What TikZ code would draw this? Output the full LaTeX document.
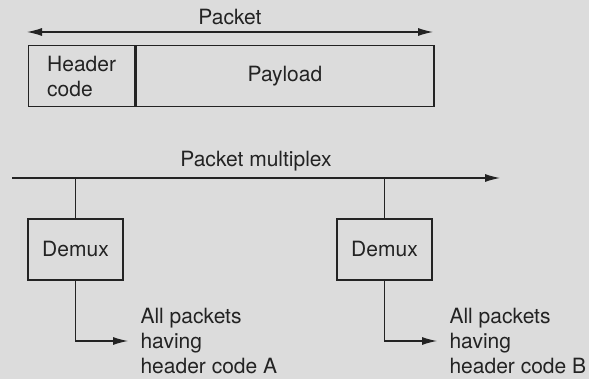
\documentclass[tikz,border=0pt]{standalone}
\usepackage{fontspec}
\setmainfont{TeX Gyre Heros}
\usetikzlibrary{positioning,arrows.meta}
\definecolor{bg}{RGB}{220,220,220}
\definecolor{ink}{RGB}{35,35,35}

\tikzset{
  cell/.style={draw, line width=0.65pt, minimum height=30.5pt, inner sep=0pt, align=left},
  demuxbox/.style={draw, line width=0.65pt, minimum width=47.5pt, minimum height=30.5pt},
  tip/.style={-{Latex[length=7.5pt,width=4pt]}},
  tips/.style={{Latex[length=7.5pt,width=4pt]}-{Latex[length=7.5pt,width=4pt]}},
  outtext/.style={anchor=west, inner xsep=6pt, inner ysep=0pt, align=left},
}

\begin{document}
\begin{tikzpicture}[x=0.5pt, y=-0.5pt, line width=0.55pt, color=ink,
    font=\fontsize{10.5}{12.6}\selectfont]
            \fill[bg] (0,0) rectangle (589,379);
            \useasboundingbox (0,0) rectangle (589,379);
            % packet layout
            \node[cell, minimum width=53pt, anchor=north west] (header) at (28,45) {Header\\code};
            \node[cell, minimum width=149pt, right=0pt of header] (payload) {Payload};
            \coordinate (pktL) at (27,32);
            \coordinate (pktR) at (433,32);
            \draw[tips] (pktL) -- node[above] {Packet} (pktR);
            % multiplex and demultiplexers
            \coordinate (muxL) at (12,178);
            \coordinate (muxR) at (500,178);
            \draw[tip] (muxL) -- node[above] {Packet multiplex} (muxR);
            \node[demuxbox] (demuxA) at (75.5,249.5) {Demux};
            \node[demuxbox] (demuxB) at (384.5,249.5) {Demux};
            \coordinate (tapA) at (demuxA |- muxL);
            \coordinate (tapB) at (demuxB |- muxL);
            \draw (tapA) -- (demuxA);
            \draw (tapB) -- (demuxB);
            \node[outtext] (outA) at (128,341) {All packets\\having\\header code A};
            \node[outtext] (outB) at (437,341) {All packets\\having\\header code B};
            \draw[tip] (demuxA) |- (outA);
            \draw[tip] (demuxB) |- (outB);
        \end{tikzpicture}
\end{document}
